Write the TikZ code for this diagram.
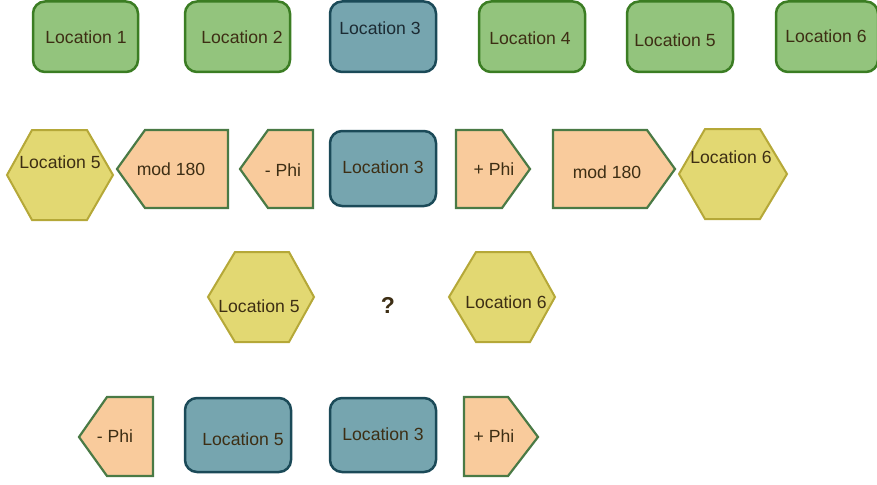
\documentclass[tikz,border=0pt]{standalone}
\usepackage{fontspec}
\setmainfont{Liberation Sans}
\definecolor{greenfill}{HTML}{93C47D}
\definecolor{greenline}{HTML}{3B7D23}
\definecolor{bluefill}{HTML}{76A5AF}
\definecolor{blueline}{HTML}{1B4A58}
\definecolor{orangefill}{HTML}{F9CB9C}
\definecolor{orangeline}{HTML}{4A7A45}
\definecolor{hexfill}{HTML}{E2D872}
\definecolor{hexline}{HTML}{B5A838}
\definecolor{inktext}{HTML}{3D2E14}
\definecolor{darktext}{HTML}{1C2B33}
\tikzset{
  greenbox/.style={fill=greenfill, draw=greenline, line width=2.5pt, rounded corners=12pt},
  bluebox/.style={fill=bluefill, draw=blueline, line width=2.5pt, rounded corners=12pt},
  arrowbox/.style={fill=orangefill, draw=orangeline, line width=2.2pt, line join=miter},
  hexbox/.style={fill=hexfill, draw=hexline, line width=2pt, line join=miter},
  lbl/.style={text=inktext, font=\fontsize{17.6}{20}\selectfont, inner sep=0pt},
  qmark/.style={text=inktext, font=\fontsize{23}{26}\selectfont\bfseries, inner sep=0pt}
}
\begin{document}
\begin{tikzpicture}[x=1pt,y=-1pt]
\useasboundingbox (0,0) rectangle (877,484);

% ---- first row: six locations
\draw[greenbox] (33,1.5) rectangle (138,72);
\draw[greenbox] (185,1.5) rectangle (290,72);
\draw[bluebox]  (330,1.5) rectangle (436,72);
\draw[greenbox] (479,1.5) rectangle (585,72);
\draw[greenbox] (627,1.5) rectangle (733,72);
\draw[greenbox] (776,1.5) rectangle (878,72);
\node[lbl] (a1) at (86,37) {Location 1};
\node[lbl] (a2) at (242,37) {Location 2};
\node[lbl, text=darktext] (a3) at (380,28) {Location 3};
\node[lbl] (a4) at (530,38) {Location 4};
\node[lbl] (a5) at (675,40) {Location 5};
\node[lbl] (a6) at (826,36) {Location 6};

% ---- second row: offsets around location 3
\draw[hexbox] (7,175) -- (32,130) -- (87,130) -- (113,175) -- (87,220) -- (32,220) -- cycle;
\draw[arrowbox] (117,169) -- (145,130) -- (228,130) -- (228,208) -- (145,208) -- cycle;
\draw[arrowbox] (240,169) -- (268,130) -- (313,130) -- (313,208) -- (268,208) -- cycle;
\draw[bluebox]  (330,131) rectangle (436,206);
\draw[arrowbox] (456,130) -- (502,130) -- (530,169) -- (502,208) -- (456,208) -- cycle;
\draw[arrowbox] (553,130) -- (647,130) -- (675,169) -- (647,208) -- (553,208) -- cycle;
\draw[hexbox] (679,174) -- (705,129) -- (760,129) -- (787,174) -- (760,219) -- (705,219) -- cycle;
\node[lbl] (b1) at (60,162) {Location 5};
\node[lbl] (b2) at (171,169) {mod 180};
\node[lbl] (b3) at (283,170) {- Phi};
\node[lbl] (b4) at (383,167) {Location 3};
\node[lbl] (b5) at (494,169) {+ Phi};
\node[lbl] (b6) at (607,172) {mod 180};
\node[lbl] (b7) at (731,157) {Location 6};

% ---- third row: which neighbour
\draw[hexbox] (208,297) -- (235,252) -- (289,252) -- (314,297) -- (289,342) -- (235,342) -- cycle;
\draw[hexbox] (449,297) -- (476,252) -- (530,252) -- (555,297) -- (530,342) -- (476,342) -- cycle;
\node[lbl] (c1) at (259,306) {Location 5};
\node[qmark] (c2) at (388,305) {?};
\node[lbl] (c3) at (506,302) {Location 6};

% ---- fourth row: result
\draw[arrowbox] (79,437) -- (107,397) -- (153,397) -- (153,476) -- (107,476) -- cycle;
\draw[bluebox]  (185,398) rectangle (291,472);
\draw[bluebox]  (330,398) rectangle (436,472);
\draw[arrowbox] (464,397) -- (508,397) -- (538,437) -- (508,476) -- (464,476) -- cycle;
\node[lbl] (d1) at (115,436) {- Phi};
\node[lbl] (d2) at (243,439) {Location 5};
\node[lbl] (d3) at (383,434) {Location 3};
\node[lbl] (d4) at (494,436) {+ Phi};
\end{tikzpicture}
\end{document}
